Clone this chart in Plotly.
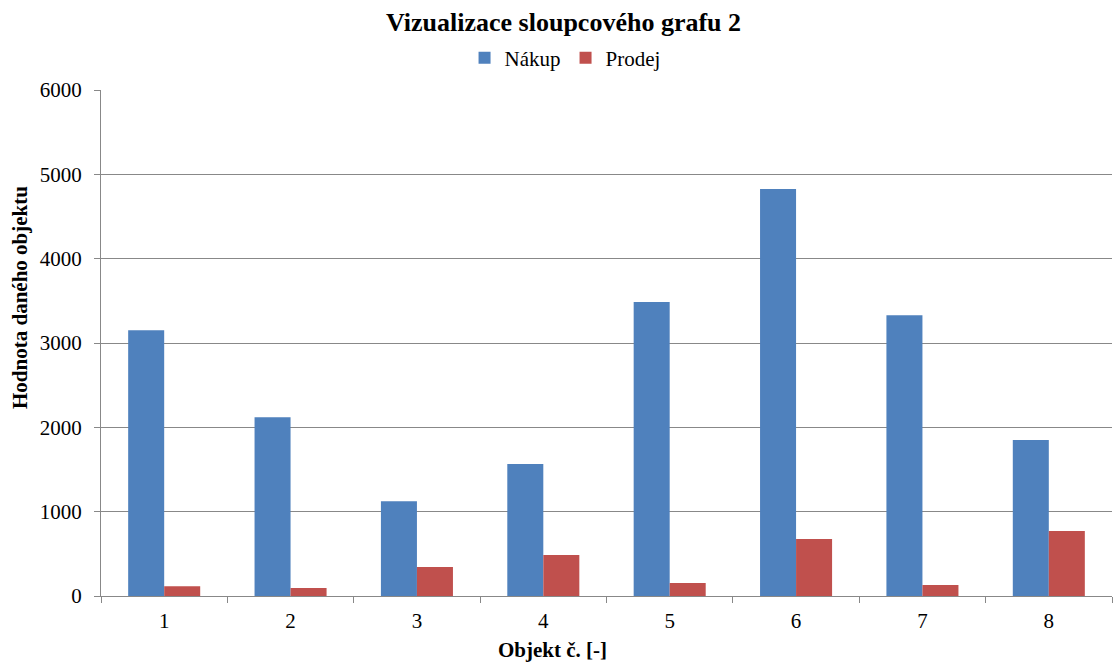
import plotly.graph_objects as go

categories = ["1", "2", "3", "4", "5", "6", "7", "8"]
nakup = [3150, 2120, 1125, 1565, 3485, 4825, 3330, 1850]
prodej = [115, 95, 345, 485, 155, 675, 130, 770]

FONT = "Liberation Serif, Times New Roman, serif"
GRID = "#888888"

fig = go.Figure()
fig.add_trace(go.Bar(x=categories, y=nakup, name="Nákup", marker_color="#4F81BD", marker_line_width=0))
fig.add_trace(go.Bar(x=categories, y=prodej, name="Prodej", marker_color="#C0504D", marker_line_width=0))

fig.update_layout(
    width=1113, height=662,
    margin=dict(l=101, r=1, t=90, b=66),
    paper_bgcolor="white", plot_bgcolor="white",
    font=dict(family=FONT, size=21, color="black"),
    barmode="group", bargap=0.43, bargroupgap=0,
    title=dict(text="<b>Vizualizace sloupcového grafu 2</b>", x=0.4575, xref="paper", xanchor="center",
               y=0.967, yref="container", yanchor="middle", font=dict(size=26, family=FONT)),
    legend=dict(orientation="h", x=0.459, xref="paper", xanchor="center", y=1.063, yref="paper",
                yanchor="middle", font=dict(size=21, family=FONT), itemwidth=30, traceorder="normal",
                bgcolor="rgba(0,0,0,0)"),
    showlegend=True,
    annotations=[
        dict(text="<b>Objekt č. [-]</b>", x=0.4466, xref="paper", y=-0.1067, yref="paper",
             xanchor="center", yanchor="middle", showarrow=False, font=dict(size=21, family=FONT)),
        dict(text="<b>Hodnota daného objektu</b>", x=(20 - 101) / 1011, xref="paper", y=0.589, yref="paper",
             xanchor="center", yanchor="middle", showarrow=False, textangle=-90,
             font=dict(size=21, family=FONT)),
    ],
)
fig.update_xaxes(
    type="category", showgrid=False, showline=True, linecolor=GRID, linewidth=1,
    ticks="outside", tickson="boundaries", ticklen=6, tickcolor=GRID,
    tickfont=dict(size=21, family=FONT), ticklabelstandoff=6,
)
fig.update_yaxes(
    range=[0, 6000], dtick=1000, showgrid=True, gridcolor=GRID, gridwidth=1,
    showline=True, linecolor=GRID, linewidth=1, ticks="outside", ticklen=6, tickcolor=GRID,
    zeroline=False, tickfont=dict(size=21, family=FONT), ticklabelstandoff=8,
)
fig.write_html("out.html", config={"displayModeBar": False},
               post_script="document.body.style.margin='0';document.body.style.overflow='hidden';")
